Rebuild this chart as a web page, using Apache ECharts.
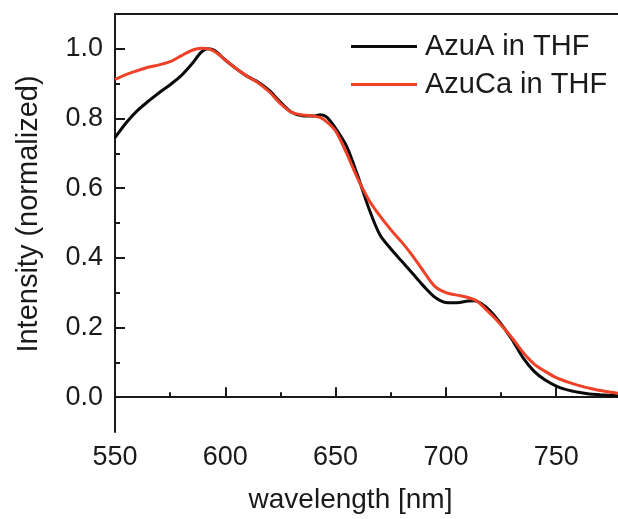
<!DOCTYPE html>
<html>
<head>
<meta charset="utf-8">
<script src="https://cdn.jsdelivr.net/npm/echarts@6/dist/echarts.min.js"></script>
<style>
html,body{margin:0;padding:0;background:#fff;}
#c{width:618px;height:519px;}
</style>
</head>
<body>
<div id="c"></div>
<script>
// wavelength [nm] and normalized intensity
const wlA = [550,555,560,565,570,575,580,585,589,592,595,600,605,610,615,620,625,630,635,640,643,646,650,655,660,665,670,675,680,685,690,695,700,705,710,713,716,720,725,730,735,740,745,750,755,760,765,770,778];
const azuA = [0.745,0.787,0.822,0.849,0.874,0.897,0.923,0.958,0.990,1.000,0.996,0.968,0.943,0.921,0.904,0.880,0.847,0.818,0.808,0.807,0.811,0.804,0.772,0.720,0.636,0.543,0.467,0.426,0.390,0.354,0.318,0.287,0.272,0.271,0.276,0.277,0.269,0.248,0.210,0.165,0.113,0.074,0.049,0.032,0.021,0.014,0.009,0.007,0.004];
const wlCa = [550,555,560,565,570,575,580,585,589,593,597,600,605,610,615,620,625,630,635,640,643,646,650,655,660,665,670,675,680,685,690,695,700,705,710,714,718,722,726,730,735,740,745,750,755,760,765,770,778];
const azuCa = [0.912,0.926,0.937,0.947,0.954,0.963,0.980,0.996,1.002,0.999,0.984,0.968,0.943,0.921,0.902,0.876,0.843,0.818,0.810,0.807,0.803,0.790,0.764,0.700,0.628,0.567,0.521,0.481,0.445,0.405,0.360,0.318,0.300,0.293,0.286,0.276,0.253,0.228,0.200,0.170,0.128,0.095,0.074,0.056,0.044,0.034,0.026,0.019,0.011];
const seriesNames = ['AzuA in THF','AzuCa in THF'];
const xMajor = [550,600,650,700,750];
const xMinor = [575,625,675,725,775];
const yMajor = [0.0,0.2,0.4,0.6,0.8,1.0];
const yMinor = [0.1,0.3,0.5,0.7,0.9];
const xTitle = 'wavelength [nm]';
const yTitle = 'Intensity (normalized)';

const font = 'Liberation Sans, Arial, sans-serif';
const axisColor = '#1a1a1a';
const chart = echarts.init(document.getElementById('c'));
const pair = (xs, ys) => xs.map((x,i)=>[x, ys[i]]);
const xBase = {type:'value', min:550, max:778, splitLine:{show:false}};
const yBase = {type:'value', min:-0.1, max:1.1, splitLine:{show:false}};
chart.setOption({
  backgroundColor:'#ffffff',
  animation:false,
  grid:{left:115, right:0, top:14, bottom:83, containLabel:false},
  legend:{
    orient:'vertical', left:351, top:32, padding:0, icon:'rect',
    itemWidth:66, itemHeight:3, itemGap:9,
    textStyle:{fontFamily:font, fontSize:29, color:axisColor, padding:[0,0,0,3], lineHeight:29},
    data:seriesNames
  },
  xAxis:[
    Object.assign({}, xBase, {
      position:'bottom',
      name:xTitle, nameLocation:'middle', nameGap:54,
      nameTextStyle:{fontFamily:font, fontSize:28, color:axisColor, padding:[0,32,0,0]},
      axisLine:{show:true, lineStyle:{color:axisColor, width:2}},
      axisTick:{show:true, inside:true, length:10, lineStyle:{color:axisColor, width:2}, customValues:xMajor},
      axisLabel:{show:true, margin:12, fontFamily:font, fontSize:27, color:axisColor, customValues:xMajor}
    }),
    Object.assign({}, xBase, {
      position:'bottom',
      axisLine:{show:false},
      axisTick:{show:true, inside:true, length:5, lineStyle:{color:axisColor, width:2}, customValues:xMinor},
      axisLabel:{show:false}
    }),
    Object.assign({}, xBase, {
      position:'top',
      axisLine:{show:true, lineStyle:{color:axisColor, width:2}},
      axisTick:{show:false},
      axisLabel:{show:false}
    })
  ],
  yAxis:[
    Object.assign({}, yBase, {
      position:'left',
      name:yTitle, nameLocation:'middle', nameGap:72,
      nameTextStyle:{fontFamily:font, fontSize:29, color:axisColor, padding:[0,0,0,18]},
      axisLine:{show:true, lineStyle:{color:axisColor, width:2}},
      axisTick:{show:true, inside:true, length:10, lineStyle:{color:axisColor, width:2}, customValues:yMajor},
      axisLabel:{show:true, margin:12, fontFamily:font, fontSize:27, color:axisColor, customValues:yMajor,
        formatter:v=>Number(v).toFixed(1)}
    }),
    Object.assign({}, yBase, {
      position:'left',
      axisLine:{show:false},
      axisTick:{show:true, inside:true, length:5, lineStyle:{color:axisColor, width:2}, customValues:yMinor},
      axisLabel:{show:false}
    })
  ],
  series:[
    {name:seriesNames[0], type:'line', data:pair(wlA, azuA), smooth:0.3, symbol:'none',
     xAxisIndex:0, yAxisIndex:0, lineStyle:{color:'#0a0a0a', width:3}, itemStyle:{color:'#0a0a0a'}, z:2},
    {name:seriesNames[1], type:'line', data:pair(wlCa, azuCa), smooth:0.3, symbol:'none',
     xAxisIndex:0, yAxisIndex:0, lineStyle:{color:'#ee4127', width:3}, itemStyle:{color:'#ee4127'}, z:3}
  ]
});
</script>
</body>
</html>
